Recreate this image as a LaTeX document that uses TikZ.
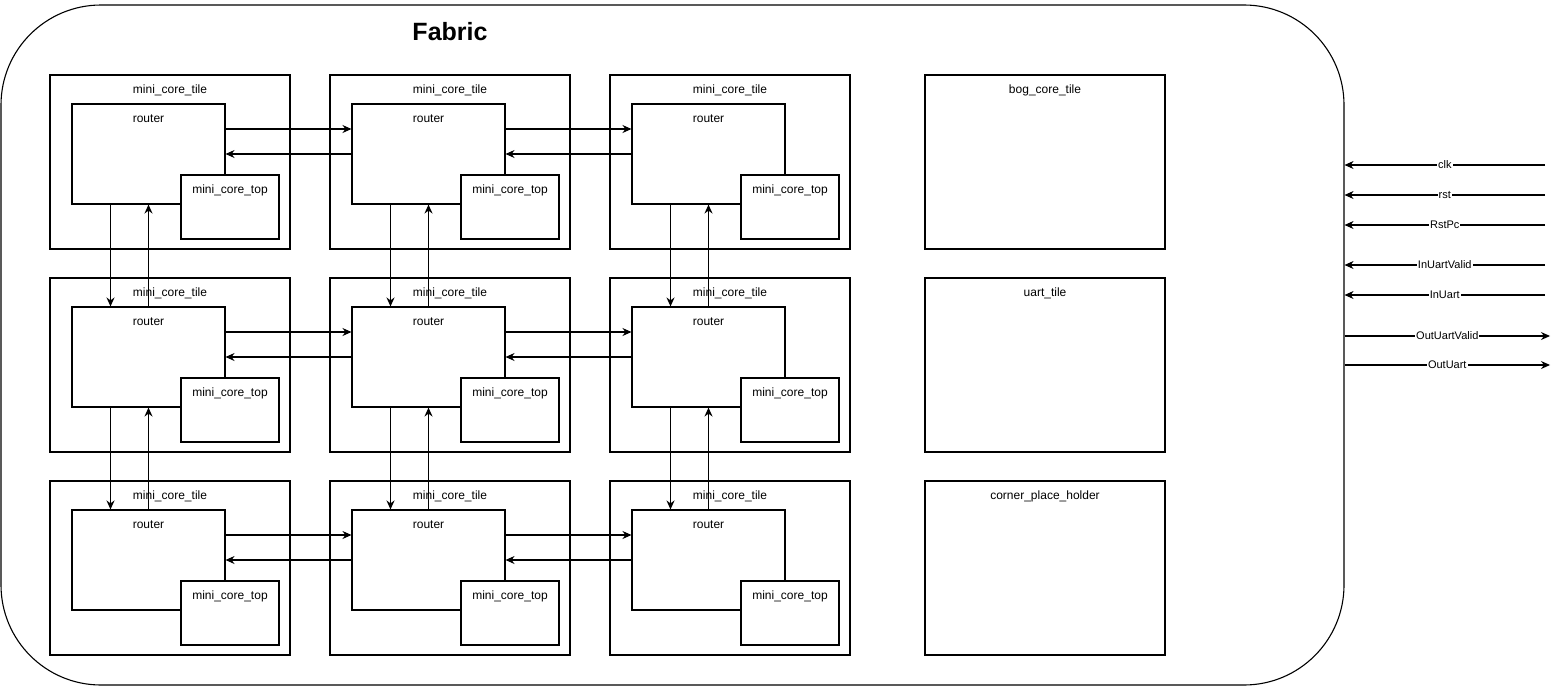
\documentclass[tikz,border=0pt]{standalone}
\usepackage{fontspec}
\setmainfont{Liberation Sans}
\usepackage{tikz}
\usetikzlibrary{arrows.meta,positioning,calc}

\begin{document}
\begin{tikzpicture}[x=1pt, y=1pt, line width=1.1pt, >={Stealth[length=9pt,width=8pt]}, font=\fontsize{12}{14}\selectfont]
	\tikzstyle{fabricbox} = [rectangle, rounded corners=100pt, minimum width=1343pt, minimum height=680pt, draw=black]
	\tikzstyle{tile} = [rectangle, minimum width=240pt, minimum height=174pt, draw=black, inner sep=0pt]
	\tikzstyle{router} = [rectangle, minimum width=153pt, minimum height=100pt, draw=black, fill=white, inner sep=0pt]
	\tikzstyle{coretop} = [rectangle, minimum width=98pt, minimum height=64pt, draw=black, fill=white, inner sep=0pt]
	\tikzstyle{title} = [anchor=center, yshift=-15.5pt]
	\tikzstyle{signal} = [midway, fill=white, inner sep=1pt, font=\fontsize{11}{13}\selectfont]
	\useasboundingbox (0,0) rectangle (1562,-688);

	\node (fabric) [fabricbox] at (672.5,-345) {};
	\node (fabrictext) at (450,-32) {\fontsize{25}{30}\selectfont\bfseries Fabric};

	% mini core tiles, router on top of each, mini_core_top in the corner
	\foreach \col in {1,2,3} {
		\foreach \row in {1,2,3} {
			\node (tile\row\col) [tile, label={[title]north:mini\_core\_tile}] at ({170+280*(\col-1)},{-162-203*(\row-1)}) {};
			\node (router\row\col) [router] at ($(tile\row\col.center)+(-21.5,8)$) {};
			\node at ($(router\row\col.north)+(0,-15)$) {router};
			\node (core\row\col) [coretop, label={[title]north:mini\_core\_top}] at ($(tile\row\col.center)+(60,-45)$) {};
		}
	}
	\node (bogtile) [tile, label={[title]north:bog\_core\_tile}] at (1045,-162) {};
	\node (uarttile) [tile, label={[title]north:uart\_tile}] at (1045,-365) {};
	\node (cornertile) [tile, label={[title]north:corner\_place\_holder}] at (1045,-568) {};

	% links between neighbouring routers
	\foreach \row in {1,2,3} {
		\foreach \col/\next in {1/2,2/3} {
			\draw [->] ([yshift=25pt]router\row\col.east) -- ([yshift=25pt]router\row\next.west);
			\draw [->] (router\row\next.west) -- (router\row\col.east);
		}
	}
	\foreach \col in {1,2,3} {
		\foreach \row/\next in {1/2,2/3} {
			\draw [->] ([xshift=-38pt]router\row\col.south) -- ([xshift=-38pt]router\next\col.north);
			\draw [->] (router\next\col.north) -- (router\row\col.south);
		}
	}

	% top level signals
	\coordinate (clk) at (1545,-165);
	\coordinate (rst) at (1545,-195);
	\coordinate (rstpc) at (1545,-225);
	\coordinate (inuartvalid) at (1545,-265);
	\coordinate (inuart) at (1545,-295);
	\coordinate (outuartvalid) at (1550,-336);
	\coordinate (outuart) at (1550,-365);
	\draw [->] (clk) -- (clk -| fabric.east) node[signal]{clk};
	\draw [->] (rst) -- (rst -| fabric.east) node[signal]{rst};
	\draw [->] (rstpc) -- (rstpc -| fabric.east) node[signal]{RstPc};
	\draw [->] (inuartvalid) -- (inuartvalid -| fabric.east) node[signal]{InUartValid};
	\draw [->] (inuart) -- (inuart -| fabric.east) node[signal]{InUart};
	\draw [->] (outuartvalid -| fabric.east) -- (outuartvalid) node[signal]{OutUartValid};
	\draw [->] (outuart -| fabric.east) -- (outuart) node[signal]{OutUart};
\end{tikzpicture}
\end{document}
